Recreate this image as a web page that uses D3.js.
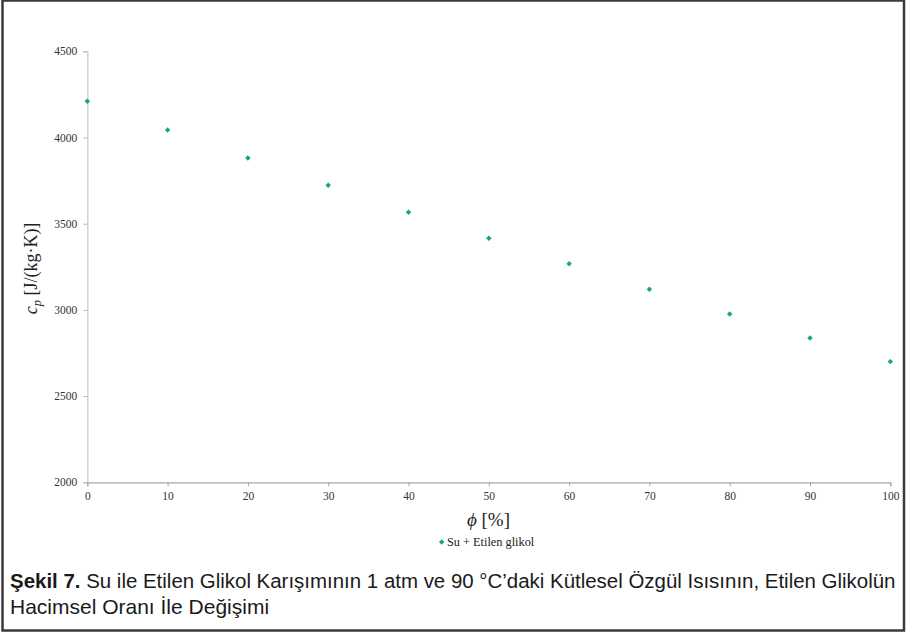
<!DOCTYPE html>
<html>
<head>
<meta charset="utf-8">
<script src="https://cdn.jsdelivr.net/npm/d3@7"></script>
<style>
  html, body { margin: 0; padding: 0; background: #fff; }
  svg { display: block; }
</style>
</head>
<body>
<svg id="chart" width="906" height="633"></svg>
<script>
// Volume fraction of ethylene glycol (%) and specific heat cp [J/(kg·K)]
const phiValues = [0, 10, 20, 30, 40, 50, 60, 70, 80, 90, 100];
const cpValues = [4210, 4044, 3881, 3723, 3566, 3415, 3268, 3120, 2976, 2837, 2700];
const xTicks = [0, 10, 20, 30, 40, 50, 60, 70, 80, 90, 100];
const yTicks = [2000, 2500, 3000, 3500, 4000, 4500];
const seriesName = "Su + Etilen glikol";
const captionBold = "Şekil 7.";
const captionLine1 = " Su ile Etilen Glikol Karışımının 1 atm ve 90 °C’daki Kütlesel Özgül Isısının, Etilen Glikolün";
const captionLine2 = "Hacimsel Oranı İle Değişimi";

const svg = d3.select("#chart");
const W = 906, H = 633;
const serif = "'Liberation Serif', 'Times New Roman', serif";
const markerColor = "#1aa86c";

// outer frame
svg.append("rect")
  .attr("x", 2.5).attr("y", 0.5)
  .attr("width", W - 4.5).attr("height", H - 3)
  .attr("fill", "none").attr("stroke", "#3b3b3b").attr("stroke-width", 2.5);

const x = d3.scaleLinear().domain([0, 100]).range([87.3, 890.3]);
const y = d3.scaleLinear().domain([2000, 4500]).range([482.3, 51.3]);

// y axis
const gy = svg.append("g").attr("transform", "translate(87.3,0)")
  .call(d3.axisLeft(y).tickValues(yTicks).tickSize(4).tickPadding(6).tickFormat(d3.format("d")));
gy.select(".domain").attr("stroke", "#d4d4d4").attr("stroke-width", 1.6);
gy.selectAll(".tick line").attr("stroke", "#b8b8b8");
gy.selectAll(".tick text").attr("font-family", serif).attr("font-size", 11.5).attr("fill", "#333");

// x axis
const gx = svg.append("g").attr("transform", "translate(0,482.3)")
  .call(d3.axisBottom(x).tickValues(xTicks).tickSize(4).tickPadding(6).tickFormat(d3.format("d")));
gx.select(".domain").attr("stroke", "#a8a8a8").attr("stroke-width", 1.2);
gx.selectAll(".tick line").attr("stroke", "#a8a8a8");
gx.selectAll(".tick text").attr("font-family", serif).attr("font-size", 11.5).attr("fill", "#333");

// data markers (small rotated squares)
const marker = d3.symbol().type(d3.symbolSquare).size(15);
svg.append("g").selectAll("path")
  .data(phiValues.map((p, i) => ({ p, c: cpValues[i] })))
  .join("path")
  .attr("d", marker)
  .attr("transform", d => `translate(${x(d.p)},${y(d.c)}) rotate(45)`)
  .attr("fill", markerColor);

// y axis title
const yt = svg.append("text")
  .attr("transform", "translate(37,268.5) rotate(-90)")
  .attr("text-anchor", "middle")
  .attr("font-family", serif).attr("font-size", 18).attr("fill", "#222");
yt.append("tspan").attr("font-style", "italic").text("c");
yt.append("tspan").attr("font-style", "italic").attr("font-size", 12.5).attr("dy", 4).text("p");
yt.append("tspan").attr("dy", -4).text(" [J/(kg·K)]");

// x axis title
const xt = svg.append("text")
  .attr("x", 488.5).attr("y", 526)
  .attr("text-anchor", "middle")
  .attr("font-family", serif).attr("font-size", 19).attr("fill", "#222");
xt.append("tspan").attr("font-style", "italic").text("ϕ");
xt.append("tspan").text(" [%]");

// legend
svg.append("path")
  .attr("d", marker)
  .attr("transform", "translate(441.7,542) rotate(45)")
  .attr("fill", markerColor);
svg.append("text")
  .attr("x", 447).attr("y", 545.7)
  .attr("font-family", serif).attr("font-size", 12.3).attr("fill", "#222")
  .text(seriesName);

// caption: condensed by horizontal scaling to fit the frame width
const sans = "'Liberation Sans Narrow', 'Liberation Sans', Arial, sans-serif";
function captionLine(yPos, targetWidth, build) {
  const t = svg.append("text")
    .attr("x", 0).attr("y", 0)
    .attr("font-family", sans).attr("font-size", 21).attr("fill", "#1a1a1a");
  build(t);
  const natural = t.node().getComputedTextLength();
  const sx = Math.min(1, targetWidth / natural);
  t.attr("transform", `translate(10,${yPos}) scale(${sx},1)`);
}
captionLine(588, 886, t => {
  t.append("tspan").attr("font-weight", "bold").text(captionBold);
  t.append("tspan").text(captionLine1);
});
captionLine(614, 262, t => t.text(captionLine2));
</script>
</body>
</html>
